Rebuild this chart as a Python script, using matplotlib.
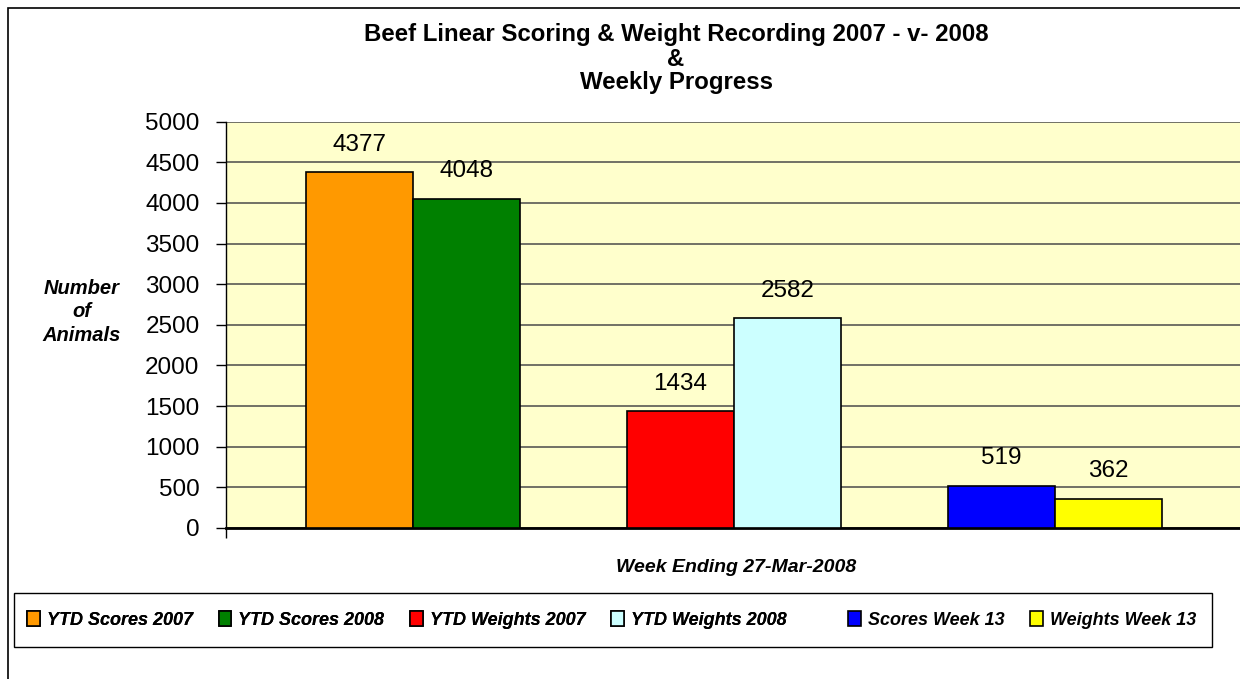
import matplotlib.pyplot as plt
from matplotlib.patches import Rectangle

# Dados
grupos = [0, 0, 1, 1, 2, 2]
series = ['YTD Scores 2007', 'YTD Scores 2008', 'YTD Weights 2007',
          'YTD Weights 2008', 'Scores Week 13', 'Weights Week 13']
valores = [4377, 4048, 1434, 2582, 519, 362]
cores = ['#FF9900', '#008000', '#FF0000', '#CCFFFF', '#0000FF', '#FFFF00']
lado = [-1, 1, -1, 1, -1, 1]
yticks = list(range(0, 5001, 500))
titulo = ['Beef Linear Scoring & Weight Recording 2007 - v- 2008', '&', 'Weekly Progress']

plt.rcParams['font.family'] = ['Liberation Sans', 'DejaVu Sans']

W, H = 1240, 679
fig = plt.figure(figsize=(W / 100, H / 100), dpi=100)

# borda externa do gráfico
fig.patches.append(Rectangle((8 / W, -0.1), 1.2, 1.1 - 8 / H, transform=fig.transFigure,
                             facecolor='none', edgecolor='black', linewidth=1.2))

# área do gráfico (226..1242 px, 121.7..528 px)
ax = fig.add_axes([226 / W, (H - 528) / H, 1016 / W, 406.3 / H])
ax.set_facecolor('#FFFFCC')

largura = 0.333
barras = []
for g, s, v, c, l in zip(grupos, series, valores, cores, lado):
    b = ax.bar(g + l * largura / 2, v, width=largura, color=c, edgecolor='black',
               linewidth=1.2, label=s, zorder=3)
    barras.append(b[0])
    ax.annotate(str(v), (g + l * largura / 2, v), xytext=(0, 12), textcoords='offset points',
                ha='center', va='bottom', fontsize=17.5, zorder=4)

ax.set_xlim(-0.583, 2.583)
ax.set_ylim(0, 5000)
ax.set_yticks(yticks)
ax.tick_params(axis='y', labelsize=17.5, direction='out', length=7, width=1, pad=12)
ax.set_xticks([-0.583])
ax.set_xticklabels([''])
ax.tick_params(axis='x', direction='out', length=7, width=1)
ax.grid(axis='y', color='#4a4a4a', linewidth=1.1, zorder=1)
ax.set_axisbelow(True)
for s in ['top', 'right']:
    ax.spines[s].set_visible(False)
ax.spines['bottom'].set_linewidth(2)
ax.spines['left'].set_linewidth(1)

# títulos (linhas de base a cada 24 px)
for i, linha in enumerate(titulo):
    fig.text(676 / W, 1 - (41.5 + 24 * i) / H, linha, ha='center', va='baseline',
             fontsize=17.3, fontweight='bold')
fig.text(82 / W, 1 - 312 / H, 'Number\nof\nAnimals', ha='center', va='center',
         multialignment='center', fontsize=14.5, fontweight='bold', fontstyle='italic',
         linespacing=1.33)
fig.text(736 / W, 1 - 568 / H, 'Week Ending 27-Mar-2008', ha='center', va='center',
         fontsize=14, fontweight='bold', fontstyle='italic')

# legenda: caixa + dois blocos de entradas
fig.patches.append(Rectangle((14 / W, 1 - 647 / H), 1198 / W, 54 / H, transform=fig.transFigure,
                             facecolor='white', edgecolor='black', linewidth=1))
opts = dict(loc='center left', frameon=False, borderpad=0, borderaxespad=0,
            prop={'size': 13, 'weight': 'bold', 'style': 'italic'},
            handlelength=0.7, handleheight=0.9, handletextpad=0.4, columnspacing=1.42)
leg1 = fig.legend(barras[:4], series[:4], ncol=4, bbox_to_anchor=(27 / W, 1 - 620 / H), **opts)
fig.add_artist(leg1)
leg2 = fig.legend(barras[4:], series[4:], ncol=2, bbox_to_anchor=(848 / W, 1 - 620 / H), **opts)

fig.savefig('out.png', dpi=100)
